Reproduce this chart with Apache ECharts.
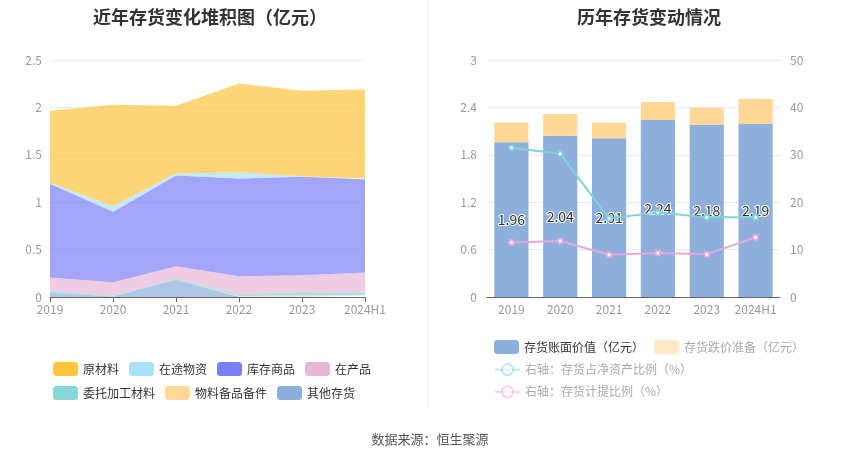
<!DOCTYPE html>
<html>
<head>
<meta charset="utf-8">
<script src="https://cdn.jsdelivr.net/npm/echarts@6/dist/echarts.min.js"></script>
<style>
  body { margin: 0; background: #fff; }
  #main { width: 850px; height: 459px; }
</style>
</head>
<body>
<div id="main"></div>
<script>
var years = ['2019', '2020', '2021', '2022', '2023', '2024H1'];

// 左图：存货构成（亿元）
var rawMaterial = [0.76, 1.07, 0.715, 0.94, 0.90, 0.94];
var inTransit = [0.01, 0.058, 0.021, 0.063, 0.007, 0.01];
var finishedGoods = [0.99, 0.745, 0.958, 1.032, 1.039, 0.983];
var workInProgress = [0.14, 0.143, 0.13, 0.19, 0.177, 0.211];
var consigned = [0.02, 0.007, 0.011, 0.018, 0.035, 0.028];
var spareParts = [0, 0, 0, 0.007, 0.015, 0.004];
var otherStock = [0.045, 0.005, 0.183, 0.003, 0.002, 0.015];

// 右图
var bookValue = [1.96, 2.04, 2.01, 2.24, 2.18, 2.19];
var provision = [0.25, 0.275, 0.196, 0.228, 0.216, 0.316];
var netAssetRatio = [31.5, 30.2, 16.6, 17.8, 16.8, 16.8];
var provisionRatio = [11.5, 11.8, 8.9, 9.3, 9.0, 12.6];

var leftTicks = { min: 0, max: 2.5, interval: 0.5 };
var rightTicksL = { min: 0, max: 3, interval: 0.6 };
var rightTicksR = { min: 0, max: 50, interval: 10 };

var myChart = echarts.init(document.getElementById('main'));

var labelColor = '#999';
var splitColor = '#e6e9f2';

function area(name, data, color) {
  return {
    name: name,
    type: 'line',
    stack: 'total',
    xAxisIndex: 0,
    yAxisIndex: 0,
    symbol: 'none',
    lineStyle: { width: 0 },
    itemStyle: { color: color },
    areaStyle: { color: color, opacity: 0.7 },
    data: data
  };
}

var option = {
  animation: false,
  textStyle: { fontFamily: '"Noto Sans CJK SC", sans-serif' },
  title: [
    {
      text: '近年存货变化堆积图（亿元）',
      left: 205, top: 3, textAlign: 'center',
      textStyle: { fontSize: 18, fontWeight: 'bold', color: '#333' }
    },
    {
      text: '历年存货变动情况',
      left: 644, top: 3, textAlign: 'center',
      textStyle: { fontSize: 18, fontWeight: 'bold', color: '#333' }
    },
    {
      text: '数据来源：恒生聚源',
      left: 425, top: 428, textAlign: 'center',
      textStyle: { fontSize: 13, fontWeight: 'normal', color: '#555' }
    }
  ],
  graphic: [{
    type: 'line',
    shape: { x1: 428, y1: 0, x2: 428, y2: 407 },
    style: { stroke: '#f0f0f0', lineWidth: 1 }
  }],
  legend: [
    {
      left: 48, top: 357, width: 350,
      icon: 'roundRect',
      itemWidth: 25, itemHeight: 14, itemGap: 10,
      textStyle: { fontSize: 12, color: '#333' },
      data: ['原材料', '在途物资', '库存商品', '在产品', '委托加工材料', '物料备品备件', '其他存货']
    },
    {
      left: 489, top: 335,
      itemWidth: 25, itemHeight: 14, itemGap: 10,
      textStyle: { fontSize: 12 },
      data: [
        { name: '存货账面价值（亿元）', textStyle: { color: '#333' } },
        { name: '存货跌价准备（亿元）', textStyle: { color: '#aaa' }, itemStyle: { color: '#ffe9c9' } }
      ]
    },
    {
      left: 489, top: 358, orient: 'vertical',
      itemWidth: 25, itemHeight: 14, itemGap: 9,
      textStyle: { fontSize: 12, color: '#aaa' },
      data: [
        { name: '右轴：存货占净资产比例（%）', itemStyle: { opacity: 0.5 }, lineStyle: { opacity: 0.5 } },
        { name: '右轴：存货计提比例（%）', itemStyle: { opacity: 0.5 }, lineStyle: { opacity: 0.5 } }
      ]
    }
  ],
  grid: [
    { left: 50, right: 485, top: 60, height: 237 },
    { left: 487, right: 70, top: 60, height: 237 }
  ],
  xAxis: [
    {
      type: 'category', gridIndex: 0, data: years, boundaryGap: false,
      axisLine: { lineStyle: { color: '#666' } },
      axisTick: { lineStyle: { color: '#666' } },
      axisLabel: { color: labelColor, fontSize: 12, margin: 6, interval: 0 }
    },
    {
      type: 'category', gridIndex: 1, data: years,
      axisLine: { lineStyle: { color: '#666' } },
      axisTick: { alignWithLabel: true, interval: 0, lineStyle: { color: '#666' } },
      axisLabel: { color: labelColor, fontSize: 12, margin: 6, interval: 0 }
    }
  ],
  yAxis: [
    {
      type: 'value', gridIndex: 0,
      min: leftTicks.min, max: leftTicks.max, interval: leftTicks.interval,
      axisLabel: { color: labelColor, fontSize: 12 },
      splitLine: { lineStyle: { color: splitColor } }
    },
    {
      type: 'value', gridIndex: 1,
      min: rightTicksL.min, max: rightTicksL.max, interval: rightTicksL.interval,
      axisLabel: { color: labelColor, fontSize: 12, margin: 10 },
      splitLine: { lineStyle: { color: splitColor } }
    },
    {
      type: 'value', gridIndex: 1, position: 'right',
      min: rightTicksR.min, max: rightTicksR.max, interval: rightTicksR.interval,
      axisLabel: { color: labelColor, fontSize: 12, margin: 10 },
      splitLine: { show: false }
    }
  ],
  series: [
    area('其他存货', otherStock, '#8eaedc'),
    area('物料备品备件', spareParts, '#ffd898'),
    area('委托加工材料', consigned, '#86d6d8'),
    area('在产品', workInProgress, '#e8b7d8'),
    area('库存商品', finishedGoods, '#7b7ff5'),
    area('在途物资', inTransit, '#a8e1fa'),
    area('原材料', rawMaterial, '#ffc53d'),
    {
      name: '存货账面价值（亿元）',
      type: 'bar', stack: 'stock', xAxisIndex: 1, yAxisIndex: 1,
      barWidth: '70%',
      itemStyle: { color: '#8eaedc' },
      label: {
        show: true, position: 'inside', fontSize: 14, color: '#333',
        textBorderColor: '#fff', textBorderWidth: 2
      },
      data: bookValue
    },
    {
      name: '存货跌价准备（亿元）',
      type: 'bar', stack: 'stock', xAxisIndex: 1, yAxisIndex: 1,
      barWidth: '70%',
      itemStyle: { color: '#ffd898' },
      data: provision
    },
    {
      name: '右轴：存货占净资产比例（%）',
      type: 'line', xAxisIndex: 1, yAxisIndex: 2,
      symbol: 'emptyCircle', symbolSize: 5,
      lineStyle: { width: 2, color: '#7fd3d6' },
      itemStyle: { color: '#7fd3d6' },
      data: netAssetRatio
    },
    {
      name: '右轴：存货计提比例（%）',
      type: 'line', xAxisIndex: 1, yAxisIndex: 2,
      symbol: 'emptyCircle', symbolSize: 5,
      lineStyle: { width: 2, color: '#e4a9dc' },
      itemStyle: { color: '#e4a9dc' },
      data: provisionRatio
    }
  ]
};

myChart.setOption(option);
</script>
</body>
</html>
